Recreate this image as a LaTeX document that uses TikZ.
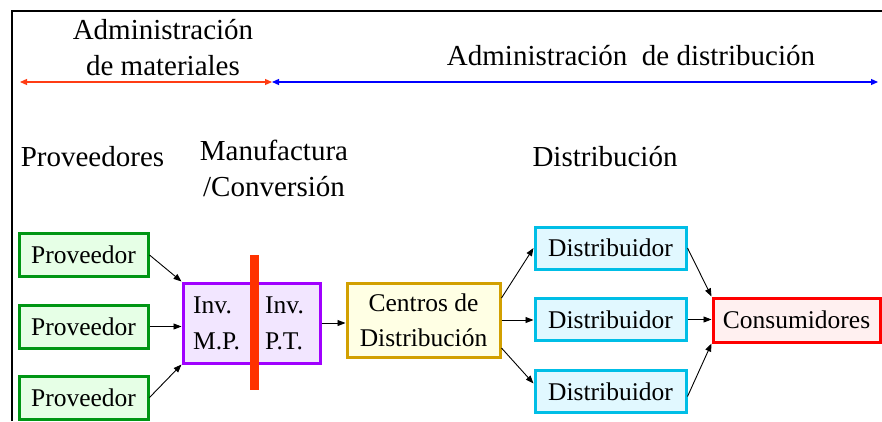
\documentclass[tikz,border=0pt]{standalone}
\usepackage{fontspec}
\setmainfont{Liberation Serif}
\newfontfamily\diagfont{Liberation Serif}
\usetikzlibrary{arrows.meta,calc}

\definecolor{provline}{RGB}{0,150,20}
\definecolor{provfill}{RGB}{230,255,230}
\definecolor{invline}{RGB}{160,0,255}
\definecolor{invfill}{RGB}{242,230,255}
\definecolor{cdline}{RGB}{210,160,0}
\definecolor{cdfill}{RGB}{255,255,228}
\definecolor{distline}{RGB}{0,190,230}
\definecolor{distfill}{RGB}{225,248,255}
\definecolor{consline}{RGB}{255,0,0}
\definecolor{consfill}{RGB}{255,240,240}
\definecolor{barred}{RGB}{255,50,0}
\definecolor{arrowred}{RGB}{255,60,20}

\tikzset{
  boxtext/.style={font=\diagfont\fontsize{25.5}{30}\selectfont},
  heading/.style={font=\diagfont\fontsize{29}{36}\selectfont, align=center, inner sep=0pt},
  box/.style={boxtext, draw, line width=3pt, inner sep=0pt, anchor=center},
  provbox/.style={box, draw=provline, fill=provfill, minimum width=129pt, minimum height=43pt},
  distbox/.style={box, draw=distline, fill=distfill, minimum width=151pt, minimum height=42pt},
  flow/.style={line width=0.9pt, -{Triangle[length=8pt,width=6pt]}},
  span/.style={line width=1.2pt, {Triangle[length=7pt,width=6pt]}-{Triangle[length=7pt,width=6pt]}},
}

\begin{document}
\begin{tikzpicture}[x=1pt,y=-1pt]
\useasboundingbox (0,0) rectangle (882,421);

% frame corner
\draw[line width=2.5pt] (12,421) -- (12,11) -- (882,11);

% management spans
\node[heading] (admmat) at (163,48) {Administración\\de materiales};
\node[heading] (admdis) at (631,56) {Administración\ \ de distribución};
\coordinate (sL) at (20,82);
\coordinate (sM) at (272,82);
\coordinate (sR) at (878,82);
\draw[span, blue] (sM) -- (sR);
\draw[span, arrowred] (sL) -- (sM);

% stage headings
\node[heading] (hprov) at (92.5,157) {Proveedores};
\node[heading] (hman) at (274,168) {Manufactura\\/Conversión};
\node[heading] (hdist) at (605,157) {Distribución};

% suppliers
\node[provbox] (p1) at (83.5,255) {Proveedor};
\node[provbox] (p2) at (83.5,326.5) {Proveedor};
\node[provbox] (p3) at (83.5,397.5) {Proveedor};

% inventory box with split bar
\node[box, draw=invline, fill=invfill, minimum width=137pt, minimum height=80pt] (inv) at (251.5,323) {};
\node[boxtext, anchor=base west, inner sep=0pt] (invmp1) at (193,313) {Inv.};
\node[boxtext, anchor=base west, inner sep=0pt] (invmp2) at (193,349) {M.P.};
\node[boxtext, anchor=base west, inner sep=0pt] (invpt1) at (265,313) {Inv.};
\node[boxtext, anchor=base west, inner sep=0pt] (invpt2) at (265,349) {P.T.};
\fill[barred] (250,255) rectangle (258.5,390);

% distribution centres
\node[box, draw=cdline, fill=cdfill, minimum width=153pt, minimum height=74pt, align=center,
      font=\diagfont\fontsize{25.5}{35}\selectfont] (cd) at (423.5,320) {Centros de\\Distribución};

% distributors
\node[distbox] (d1) at (610.5,248) {Distribuidor};
\node[distbox] (d2) at (610.5,319.5) {Distribuidor};
\node[distbox] (d3) at (610.5,391.5) {Distribuidor};

% consumers
\node[box, draw=consline, fill=consfill, minimum width=167pt, minimum height=44pt] (cons) at (796.5,320) {Consumidores};

% flows
\draw[flow] (p1.east) -- (inv.north west);
\draw[flow] (p2.east) -- (p2.east -| inv.west);
\draw[flow] (p3.east) -- (inv.south west);
\draw[flow] (inv.east) -- (inv.east -| cd.west);
\draw[flow] ($(cd.east)+(0,-22)$) -- (d1.west);
\draw[flow] (cd.east) -- (cd.east -| d2.west);
\draw[flow] ($(cd.east)+(0,28)$) -- ($(d3.west)+(0,-8)$);
\draw[flow] (d1.east) -- (cons.north west);
\draw[flow] (d2.east) -- (d2.east -| cons.west);
\draw[flow] ($(d3.east)+(0,5)$) -- (cons.south west);
\end{tikzpicture}
\end{document}
